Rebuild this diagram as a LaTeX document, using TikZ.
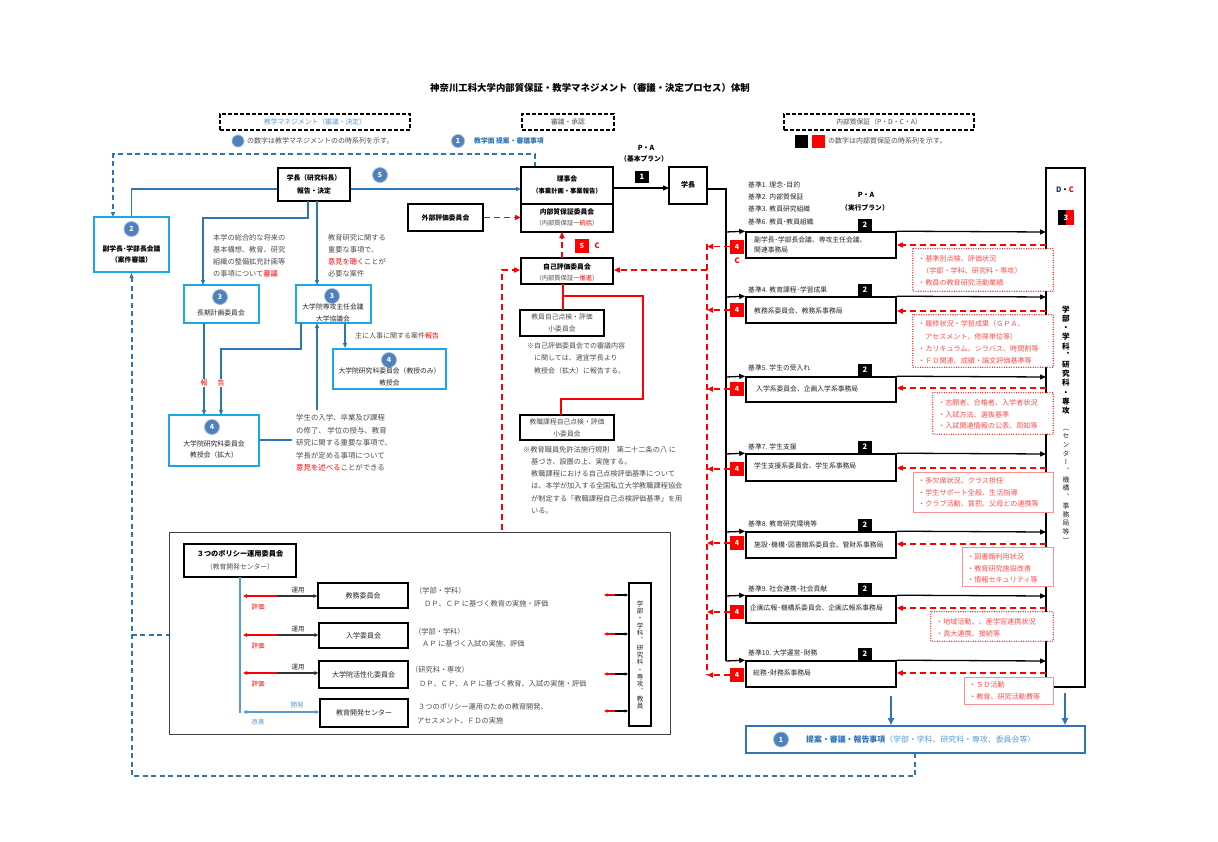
\documentclass[tikz,border=0pt]{standalone}
\usepackage{fontspec}
\setmainfont{Noto Sans CJK JP}
\newfontfamily\vfont[RawFeature=+vert]{Noto Sans CJK JP}
\usetikzlibrary{arrows.meta,fit}
\newcommand{\fs}[2]{\fontsize{#1pt}{#2pt}\selectfont}
\definecolor{mblue}{HTML}{2E75B6}
\definecolor{cyanb}{HTML}{1AA7E8}
\definecolor{circ}{HTML}{4F81BD}
\definecolor{lblue}{HTML}{5B9BD5}
\definecolor{gtext}{HTML}{4D4D4D}
\definecolor{rred}{HTML}{FF0000}
\definecolor{ltred}{HTML}{FF4D4D}
\definecolor{pinkb}{HTML}{FF8F8F}
\definecolor{framec}{HTML}{404040}
\definecolor{navy}{HTML}{1F3864}
\tikzset{
  tri/.style={-{Triangle[length=5pt,width=4pt]}},
  ktri/.style={-{Triangle[length=6pt,width=5pt]}},
  stri/.style={-{Triangle[length=4pt,width=3.5pt]}},
  bbox/.style={draw=black, line width=1.2pt, inner sep=0pt},
  tbox/.style={draw=black, line width=1.6pt, inner sep=0pt},
  cbox/.style={draw=cyanb, line width=2pt, inner sep=0pt},
  num/.style={circle, fill=circ, draw=circ!55!white, line width=0.7pt, minimum size=15pt, inner sep=0pt, text=white, font=\bfseries\fs{7}{8}},
  blk/.style={fill=black, text=white, minimum width=14pt, minimum height=12pt, inner sep=0pt, font=\bfseries\fs{7.5}{8}},
  rsq/.style={fill=rred, text=white, minimum width=14pt, minimum height=14pt, inner sep=0pt, font=\bfseries\fs{7}{8}},
  lab/.style={inner sep=0pt, font=\fs{6.8}{8}, text=black!85},
  blab/.style={inner sep=0pt, font=\bfseries\fs{6.8}{8}},
  gt/.style={inner sep=0pt, font=\fs{7.2}{12.2}, text=gtext, align=left, anchor=north west},
  rt/.style={inner sep=0pt, font=\fs{7.1}{12}, text=ltred, align=left, anchor=north west},
  bl/.style={draw=mblue, line width=1.1pt},
  bld/.style={draw=mblue, line width=2pt, dash pattern=on 5pt off 3.5pt},
  rd/.style={draw=rred, line width=1.9pt, dash pattern=on 6pt off 4pt},
  kl/.style={draw=black, line width=1.3pt},
  hdr/.style={draw=black, line width=1.5pt, dash pattern=on 4pt off 2pt, inner sep=0pt},
  dbox/.style={fill=white, inner sep=0pt},
  dline/.style={draw=rred, line width=1.3pt, line cap=round, dash pattern=on 0pt off 2.4pt},
  pbox/.style={draw=pinkb, line width=0.9pt, fill=white, inner sep=0pt},
}
\begin{document}
\begin{tikzpicture}[x=1pt,y=-1pt]
\useasboundingbox[fill=white] (0,0) rectangle (1218,841);

% ---------- title & headers ----------
\node[font=\bfseries\fs{9.4}{11}, inner sep=0pt] (title) at (590,88) {神奈川工科大学内部質保証・教学マネジメント（審議・決定プロセス）体制};
\node[hdr, fit={(220,114)(410,130)}] (h1) {};
\node[inner sep=0pt, font=\fs{6.8}{8}, text=lblue] (h1t) at (h1) {教学マネジメント（審議・決定）};
\node[hdr, fit={(522,114)(614,130)}] (h2) {};
\node[inner sep=0pt, font=\fs{6.8}{8}, text=gtext] (h2t) at (h2) {審議・承認};
\node[hdr, fit={(784,114)(974,130)}] (h3) {};
\node[inner sep=0pt, font=\fs{6.8}{8}, text=gtext] (h3t) at (h3) {内部質保証（P・D・C・A）};

\node[num, minimum size=12pt] (lg1) at (238,141) {};
\node[inner sep=0pt, anchor=west, font=\fs{7}{8}, text=gtext] (lg1t) at (247,141) {の数字は教学マネジメントのの時系列を示す。};
\node[num, minimum size=13pt] (lg2) at (458,141) {1};
\node[inner sep=0pt, anchor=west, font=\bfseries\fs{6.8}{8}, text=mblue] (lg2t) at (474,141) {教学面 提案・審議事項};
\node[fill=black, minimum width=13pt, minimum height=13pt, inner sep=0pt] (lgk) at (801,141) {};
\node[fill=rred, minimum width=13pt, minimum height=13pt, inner sep=0pt] (lgr) at (818,141) {};
\node[inner sep=0pt, anchor=west, font=\fs{7}{8}, text=gtext] (lg3t) at (828,141) {の数字は内部質保証の時系列を示す。};

\node[blab, font=\bfseries\fs{7}{8}] (pa1) at (646,148) {P・A};
\node[blab, font=\bfseries\fs{6.8}{8}] (pa1b) at (644,159) {（基本プラン）};

% ---------- left: 教学マネジメント ----------
\node[bbox, fit={(278,168)(350,201)}] (gk) {};
\node[blab, align=center, font=\bfseries\fs{6.8}{12.5}] (gkt) at (gk) {学長（研究科長）\\報告・決定};
\node[num] (n5) at (380,175) {5};

\node[cbox, fit={(94,217)(169,272)}] (fuku) {};
\node[num] (n2) at (131.5,229) {2};
\node[blab, align=center, font=\bfseries\fs{6.8}{11.5}] (fukut) at (131.5,254.5) {副学長･学部長会議\\（案件審議）};

\node[cbox, fit={(184,285)(259,323)}] (choki) {};
\node[num] (n3a) at (220,297) {3};
\node[lab] (chokit) at (221,313) {長期計画委員会};

\node[cbox, fit={(296,285)(371,323)}] (senko) {};
\node[num] (n3b) at (332,296) {3};
\node[lab, align=center, font=\fs{6.8}{12}] (senkot) at (333,313) {大学院専攻主任会議\\大学協議会};

\node[cbox, fit={(333,349)(446,389)}] (kyoju) {};
\node[num] (n4a) at (389,360) {4};
\node[lab, align=center, font=\fs{6.8}{12}] (kyojut) at (389.5,377) {大学院研究科委員会（教授のみ）\\教授会};

\node[cbox, fit={(169,415)(259,466)}] (kakudai) {};
\node[num] (n4b) at (212,427) {4};
\node[lab, align=center, font=\fs{6.8}{11.5}] (kakudait) at (214,449.5) {大学院研究科委員会\\教授会（拡大）};

\node[gt] (tA) at (213,234) {本学の総合的な将来の\\基本構想、教育、研究\\組織の整備拡充計画等\\の事項について\textcolor{rred}{審議}};
\node[gt] (tB) at (328,234) {教育研究に関する\\重要な事項で、\\\textcolor{rred}{意見を聴く}ことが\\必要な案件};
\node[gt, font=\fs{7.4}{12.6}] (tC) at (296,414) {学生の入学、卒業及び課程\\の修了、 学位の授与、教育\\研究に関する重要な事項で、\\学長が定める事項について\\\textcolor{rred}{意見を述べる}ことができる};
\node[lab, anchor=west, font=\fs{7}{8}, text=gtext] (tD) at (355,336) {主に人事に関する案件\textcolor{rred}{報告}};

\draw[bl] ([yshift=-4.5pt]gk.west) -- (131.5,189) -- (fuku.north);
\draw[bl,tri] ([yshift=-4.5pt]gk.east) -- (521,189);
\draw[bl,tri] (308,201) -- (308,218) -- (203,218) -- (203,285);
\draw[bl,tri] (317,201) -- (317,285);
\draw[bl,tri] (204,323) -- (204,415);
\draw[bl,tri] (301,323) -- (301,349) -- (221,349) -- (221,415);
\draw[bl,tri] (345,323) -- (kyoju.north -| 345,349);
\draw[bl,tri] (317,410) -- (317,323);
\draw[bl] (kakudai.east |- 0,440) -- (292,440);
\node[inner sep=1pt, fill=white, font=\fs{7}{8}, text=rred] (hou1) at (204,383) {報};
\node[inner sep=1pt, fill=white, font=\fs{7}{8}, text=rred] (hou2) at (221,383) {告};

% top blue dashed loop
\draw[bld,tri] (535,167) -- (535,154) -- (113,154) -- (113,217);

% ---------- centre ----------
\node[tbox, fit={(521,167)(613,232)}] (riji) {};
\draw[line width=1.2pt] (521,204) -- (613,204);
\node[blab] (rijit1) at (567,179) {理事会};
\node[blab, font=\bfseries\fs{6.3}{8}] (rijit2) at (567,191) {（事業計画・事業報告）};
\node[blab] (rijit3) at (567,212) {内部質保証委員会};
\node[lab, font=\fs{6.3}{8}, text=gtext] (rijit4) at (567,223) {（内部質保証ー\textcolor{rred}{統括}）};

\node[bbox, fit={(408,204)(483,231)}] (gaibu) {};
\node[blab] (gaibut) at (gaibu) {外部評価委員会};
\draw[rd,ktri] (gaibu.east) -- (521,217.5);

\node[tbox, fit={(669,167)(707,204)}] (gk2) {};
\node[blab, font=\bfseries\fs{7}{8}] (gk2t) at (688,185) {学長};
\draw[kl,ktri] (613,188) -- (669,188);
\node[blk] (b1) at (642,177) {1};
\draw[line width=1.5pt] (707,189) -- (726,189) -- (726,661);

\node[tbox, fit={(521,258)(613,284)}] (jiko) {};
\node[blab] (jikot1) at (567,267) {自己評価委員会};
\node[lab, font=\fs{6.3}{8}, text=gtext] (jikot2) at (567,278) {（内部質保証ー\textcolor{rred}{推進}）};
\draw[rd,ktri] (562,258) -- (562,232);
\node[rsq] (r5) at (582,246) {5};
\node[font=\bfseries\fs{7.5}{8}, text=rred, inner sep=0pt] (c5) at (597,246) {C};

\node[bbox, fit={(520,310)(604,336)}] (kyoin) {};
\node[lab, align=center, font=\fs{6.8}{12}, text=gtext] (kyoint) at (kyoin) {教員自己点検・評価\\小委員会};
\node[bbox, fit={(520,415)(614,440)}] (kyoshoku) {};
\node[lab, align=center, font=\fs{6.8}{12}, text=gtext] (kyoshokut) at (kyoshoku) {教職課程自己点検・評価\\小委員会};

\draw[rred, line width=2pt] (563,284) -- (563,310);
\draw[rred, line width=2pt] (563,296) -- (643,296) -- (643,399) -- (561,399) -- (561,415);

\node[gt, font=\fs{7}{12.3}] (note1) at (527,342.5) {※自己評価委員会での審議内容\\\hspace{7pt}に関しては、適宜学長より\\\hspace{7pt}教授会（拡大）に報告する。};
\node[gt, font=\fs{7.2}{12.2}] (note2) at (523,446) {※教育職員免許法施行規則　第二十二条の八 に\\\hspace{8pt}基づき、設置の上、実施する。\\\hspace{8pt}教職課程における自己点検評価基準について\\\hspace{8pt}は、本学が加入する全国私立大学教職課程協会\\\hspace{8pt}が制定する「教職課程自己点検評価基準」を用\\\hspace{8pt}いる。};

\draw[rd,ktri] (502,530) -- (502,270) -- (jiko.west |- 0,270);
\draw[rd] (707,244) -- (707,675);
\draw[rd,ktri] (707,270) -- (jiko.east |- 0,270);

% ---------- right: 内部質保証 ----------
\node[tbox, line width=1.8pt, fit={(1046,168)(1085,687)}] (big) {};
\node[inner sep=0pt, font=\bfseries\fs{7.5}{8}] (dc) at (1065,190) {\textcolor{navy}{D}・\textcolor{rred}{C}};
\fill[black] (1058,210) rectangle (1066,225);
\fill[rred] (1066,210) rectangle (1074,225);
\node[inner sep=0pt, text=white, font=\bfseries\fs{7.5}{8}] (b3) at (1066,217.5) {3};
\node[inner sep=0pt, align=center, font=\vfont\bfseries\fs{7.6}{9.2}] (vt1) at (1066,360) {学\\部\\・\\学\\科\\、\\研\\究\\科\\・\\専\\攻};
\node[inner sep=0pt, align=center, font=\vfont\fs{6.8}{8.7}, text=black!85] (vt2) at (1066,486) {（\\セ\\ン\\タ\\ー\\、\\機\\構\\、\\事\\務\\局\\等\\）};

\node[blab, font=\bfseries\fs{7}{8}] (pa2) at (866,195) {P・A};
\node[blab, font=\bfseries\fs{6.8}{8}] (pa2b) at (865,208) {（実行プラン）};
\node[lab, anchor=west] (s1) at (748,185) {基準1. 理念･目的};
\node[lab, anchor=west] (s2) at (748,197) {基準2. 内部質保証};
\node[lab, anchor=west] (s3) at (748,209) {基準3. 教員研究組織};
\node[lab, anchor=west] (s6) at (748,222) {基準6. 教員･教員組織};
\node[lab, anchor=west] (s4) at (748,290) {基準4. 教育課程･学習成果};
\node[lab, anchor=west] (s5) at (748,368) {基準5. 学生の受入れ};
\node[lab, anchor=west] (s7) at (748,447) {基準7. 学生支援};
\node[lab, anchor=west] (s8) at (748,524) {基準8. 教育研究環境等};
\node[lab, anchor=west] (s9) at (748,589) {基準9. 社会連携･社会貢献};
\node[lab, anchor=west] (s10) at (748,653) {基準10. 大学運営･財務};

\node[tbox, fit={(746,232)(896,258)}] (k1) {};
\node[tbox, fit={(746,297)(896,323)}] (k2) {};
\node[tbox, fit={(746,377)(896,402)}] (k3) {};
\node[tbox, fit={(746,454)(896,481)}] (k4) {};
\node[tbox, fit={(746,532)(896,558)}] (k5) {};
\node[tbox, fit={(746,596)(896,623)}] (k6) {};
\node[tbox, fit={(746,661)(896,687)}] (k7) {};

\node[lab, anchor=west, align=left, font=\fs{6.8}{10}] (k1t) at (754,245) {副学長･学部長会議、専攻主任会議、\\関連事務局};
\node[lab, anchor=west] (k2t) at (754,311) {教務系委員会、教務系事務局};
\node[lab, anchor=west] (k3t) at (756,389) {入学系委員会、企画入学系事務局};
\node[lab, anchor=west] (k4t) at (754,466) {学生支援系委員会、学生系事務局};
\node[lab, anchor=west] (k5t) at (754,545) {施設･機構･図書館系委員会、管財系事務局};
\node[lab, anchor=west] (k6t) at (750,608) {企画広報･機構系委員会、企画広報系事務局};
\node[lab, anchor=west] (k7t) at (753,673) {総務･財務系事務局};

\foreach \k/\yy/\ry/\dy in {k1/232/246.5/245, k2/297/310/311, k3/377/389/388, k4/454/469/468, k5/532/543/544, k6/596/612/608, k7/661/675/673}{
  \draw[kl,ktri] (726,\yy) -- (\k.north west);
  \draw[kl,ktri] (\k.north east) -- (1046,\yy);
  \node[blk] (two\k) at (865,\yy-7) {2};
  \node[rsq] (four\k) at (737,\ry) {4};
  \draw[rd,ktri] (four\k.west) -- (707,\ry);
  \draw[rd,ktri] (1046,\dy) -- (\k.east |- 0,\dy);
}
\node[font=\bfseries\fs{7.5}{8}, text=rred, inner sep=0pt] (c4) at (737,261) {C};

\node[dbox, fit={(913,249)(1053,291)}] (d1) {};
\draw[dline] (d1.north west) rectangle (d1.south east);
\node[rt] (d1t) at (918,255.5) {・基準別点検、評価状況\\\hspace{4pt}（学部・学科、研究科・専攻）\\・教員の教育研究活動業績};
\node[dbox, fit={(913,315)(1053,367)}] (d2) {};
\draw[dline] (d2.north west) rectangle (d2.south east);
\node[rt, font=\fs{7.1}{12.3}] (d2t) at (918,320.5) {・履修状況・学習成果（ＧＰＡ、\\\hspace{7pt}アセスメント、修得単位等）\\・カリキュラム、シラバス、時間割等\\・ＦＤ関連、成績・論文評価基準等};
\node[dbox, fit={(933,393)(1053,434)}] (d3) {};
\draw[dline] (d3.north west) rectangle (d3.south east);
\node[rt, font=\fs{7.1}{11.5}] (d3t) at (938,399.5) {・志願者、合格者、入学者状況\\・入試方法、選抜基準\\・入試関連情報の公表、周知等};
\node[pbox, fit={(913,472)(1053,512)}] (d4) {};
\node[rt, font=\fs{7.1}{11.5}] (d4t) at (918,477.5) {・多欠席状況、クラス担任\\・学生サポート全般、生活指導\\・クラブ活動、賞罰、父母との連携等};
\node[pbox, fit={(962,547)(1053,586)}] (d5) {};
\node[rt, font=\fs{7.1}{11.5}] (d5t) at (967,553.5) {・図書館利用状況\\・教育研究施設改善\\・情報セキュリティ等};
\node[dbox, fit={(931,612)(1053,641)}] (d6) {};
\draw[dline] (d6.north west) rectangle (d6.south east);
\node[rt, font=\fs{7.1}{11.5}] (d6t) at (936,618.5) {・地域活動、、産学官連携状況\\・高大連携、接続等};
\node[pbox, fit={(964,677)(1053,704)}] (d7) {};
\node[rt, font=\fs{7.1}{12}] (d7t) at (969,681.5) {・ＳＤ活動\\・教育、研究活動費等};

% bottom blue box
\node[draw=mblue, line width=2pt, inner sep=0pt, fit={(746,726)(1085,753)}] (teian) {};
\draw[mblue, line width=2.2pt, -{Triangle[length=7pt,width=6pt]}] (891,696) -- (891,725);
\draw[mblue, line width=2.2pt, -{Triangle[length=7pt,width=6pt]}] (1065,693) -- (1065,725);
\node[num] (n1b) at (781,739.5) {1};
\node[inner sep=0pt, anchor=west, font=\fs{7.9}{9}] (teiant) at (806,739.5) {\textcolor{mblue}{\bfseries 提案・審議・報告事項}\textcolor{lblue}{（学部・学科、研究科・専攻、委員会等）}};
\draw[bld,tri] (915,753) -- (915,776) -- (131.5,776) -- (fuku.south);

% ---------- bottom-left frame ----------
\node[draw=framec, line width=1pt, inner sep=0pt, fit={(169,532)(670,734)}] (frame) {};
\draw[bld] (131.5,635) -- (frame.west |- 0,635);
\node[bbox, fit={(184,544)(296,577)}] (pol) {};
\node[blab, font=\bfseries\fs{7.2}{8}] (polt1) at (240,554) {３つのポリシー運用委員会};
\node[lab, font=\fs{6.8}{8}, text=gtext] (polt2) at (240,567) {（教育開発センター）};
\draw[lblue, line width=1.2pt] (240,577) -- (240,713);

\node[bbox, fit={(318,583)(408,608)}] (kyomu) {};
\node[lab, font=\fs{7}{8}] (kyomut) at (kyomu) {教務委員会};
\node[bbox, fit={(319,623)(408,648)}] (nyugaku) {};
\node[lab, font=\fs{7}{8}] (nyugakut) at (nyugaku) {入学委員会};
\node[bbox, fit={(319,661)(408,688)}] (kassei) {};
\node[lab, font=\fs{7}{8}] (kasseit) at (kassei) {大学院活性化委員会};
\node[bbox, fit={(320,699)(408,727)}] (kaihatsu) {};
\node[lab, font=\fs{7}{8}] (kaihatsut) at (kaihatsu) {教育開発センター};

\foreach \yy/\bx in {596/kyomu, 635/nyugaku, 673/kassei}{
  \draw[rred, line width=1.3pt, stri] (277,\yy) -- (243,\yy);
  \draw[black!80, line width=1.3pt, stri] (277,\yy) -- (\bx.west |- 0,\yy);
  \node[inner sep=0pt, font=\fs{6.5}{8}, text=black!80] (un\bx) at (298,\yy-5.5) {運用};
  \node[inner sep=0pt, font=\fs{6.5}{8}, text=rred] (hy\bx) at (258,\yy+11) {評価};
}
\draw[lblue, line width=1.2pt, {Triangle[length=4pt,width=3.5pt]}-{Triangle[length=4pt,width=3.5pt]}] (243,712) -- (kaihatsu.west |- 0,712);
\node[inner sep=0pt, font=\fs{6.5}{8}, text=lblue] (kai1) at (297,705) {開発};
\node[inner sep=0pt, font=\fs{6.5}{8}, text=lblue] (kai2) at (258,722) {改善};

\node[lab, anchor=west, font=\fs{7.2}{8}, text=gtext] (e1a) at (415,591) {（学部・学科）};
\node[lab, anchor=west, font=\fs{7.2}{8}, text=gtext] (e1b) at (424,604) {ＤＰ、ＣＰ に基づく教育の実施・評価};
\node[lab, anchor=west, font=\fs{7.2}{8}, text=gtext] (e2a) at (414,632) {（学部・学科）};
\node[lab, anchor=west, font=\fs{7.2}{8}, text=gtext] (e2b) at (422,644) {ＡＰ に基づく入試の実施、評価};
\node[lab, anchor=west, font=\fs{7.2}{8}, text=gtext] (e3a) at (411,670) {（研究科・専攻）};
\node[lab, anchor=west, font=\fs{7.2}{8}, text=gtext] (e3b) at (419,684) {ＤＰ、ＣＰ、ＡＰ に基づく教育、入試の実施・評価};
\node[lab, anchor=west, font=\fs{7.2}{8}, text=gtext] (e4a) at (418,707) {３つのポリシー運用のための教育開発、};
\node[lab, anchor=west, font=\fs{7.2}{8}, text=gtext] (e4b) at (417,721) {アセスメント、ＦＤの実施};

\node[tbox, line width=1.4pt, fit={(629,583)(651,726)}] (gakubu) {};
\node[inner sep=0pt, align=center, font=\vfont\fs{6.5}{7.3}, text=black!85] (gakubut) at (640,655) {学\\部\\・\\学\\科\\、\\研\\究\\科\\・\\専\\攻\\、\\教\\員};
\foreach \yy in {595,634,674,711}{
  \draw[rred, line width=1.3pt, -{Triangle[length=3.5pt,width=3pt]}] (615,\yy) -- (604,\yy);
  \draw[black, line width=1.3pt, -{Triangle[length=3.5pt,width=3pt]}] (615,\yy) -- (gakubu.west |- 0,\yy);
}
\end{tikzpicture}
\end{document}
